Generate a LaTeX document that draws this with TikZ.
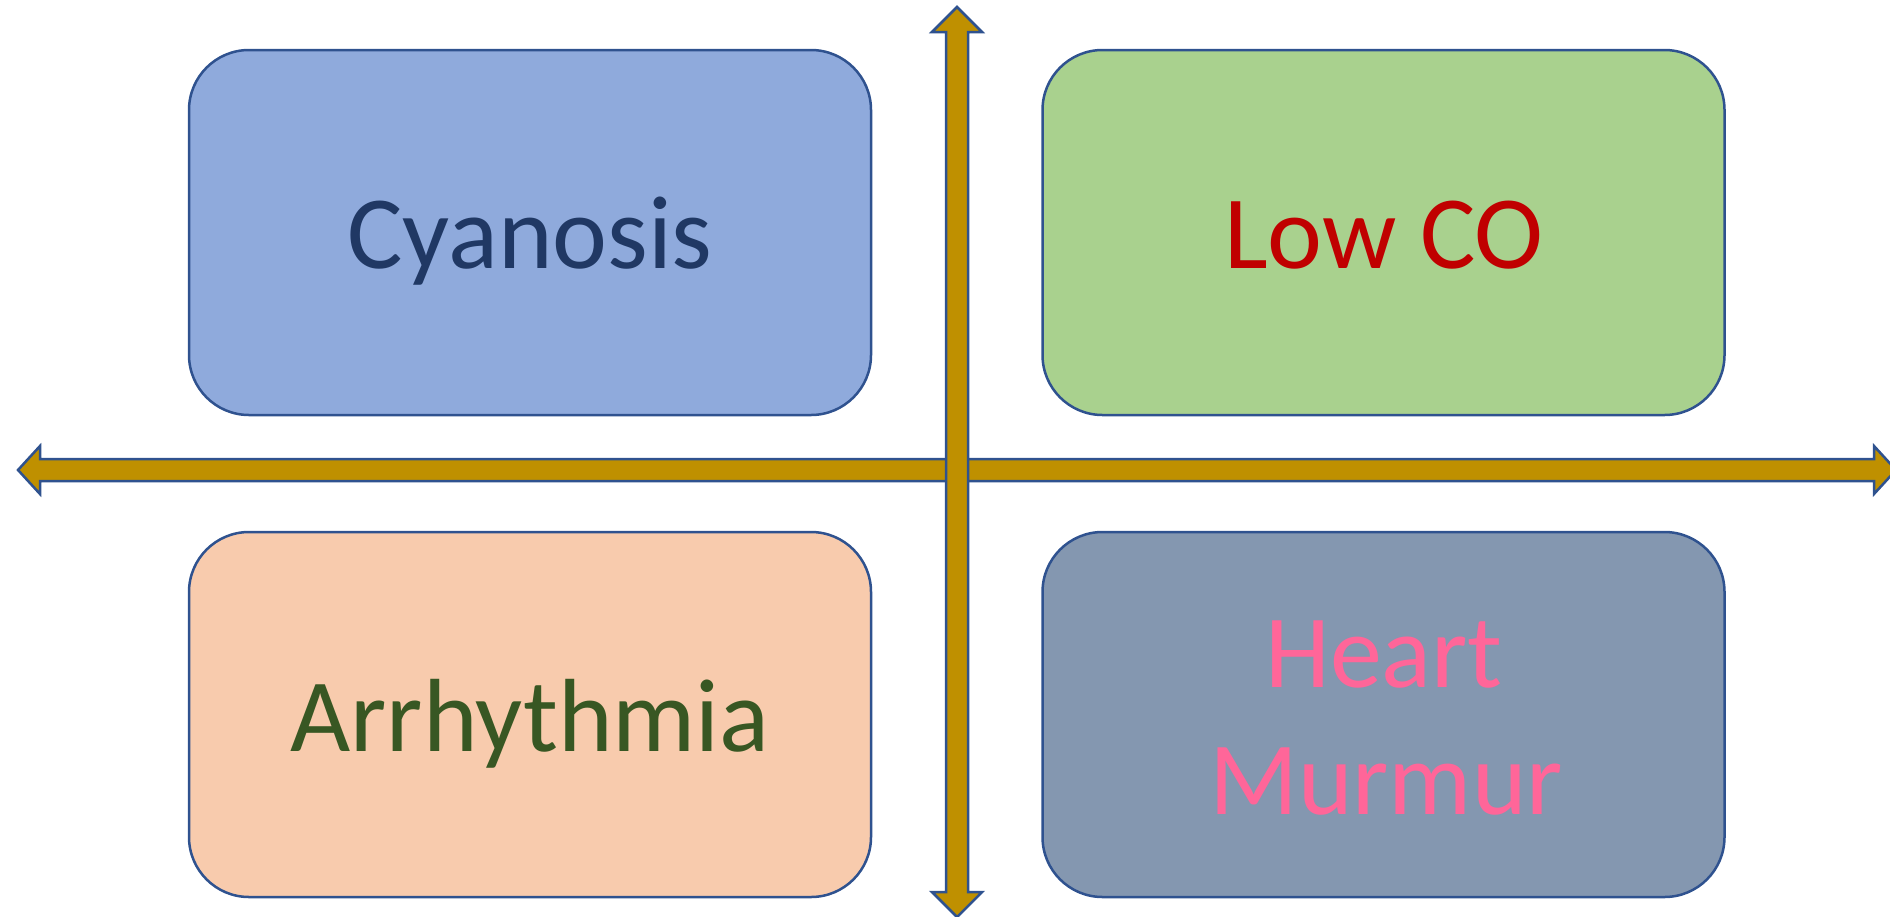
\documentclass[tikz,border=0pt]{standalone}
\usepackage{fontspec}
\setmainfont{Carlito}
\definecolor{edgeblue}{HTML}{2F528F}
\definecolor{axisgold}{HTML}{BF9000}
\definecolor{fillblue}{HTML}{8FAADC}
\definecolor{fillgreen}{HTML}{A9D18E}
\definecolor{fillpeach}{HTML}{F8CBAD}
\definecolor{fillslate}{HTML}{8497B0}
\definecolor{txtnavy}{HTML}{203864}
\definecolor{txtred}{HTML}{C00000}
\definecolor{txtgreen}{HTML}{385723}
\definecolor{txtpink}{HTML}{FF6699}
\begin{document}
\begin{tikzpicture}[x=1pt,y=-1pt,
  quad/.style={draw=edgeblue, line width=2.5pt, rounded corners=60pt,
    minimum width=682pt, minimum height=365pt, inner sep=0pt},
  lbl/.style={font=\fontsize{104}{127}\selectfont, anchor=base, inner sep=0pt},
  axis/.style={fill=axisgold, draw=edgeblue, line width=2.5pt, line join=miter}]
\useasboundingbox (0,0) rectangle (1890,916);

% four quadrant boxes
\node[quad, fill=fillblue]  (tl) at (530,232.5) {};
\node[quad, fill=fillgreen] (tr) at (1383.5,232.5) {};
\node[quad, fill=fillpeach] (bl) at (530,714.5) {};
\node[quad, fill=fillslate] (br) at (1383.5,714.5) {};

% horizontal double arrow
\coordinate (hl) at (18,470);
\coordinate (hr) at (1896,470);
\draw[axis] (hl) -- ++(22,-24) -- ++(0,13) -- (1874,459) -- ++(0,-13)
  -- (hr) -- ++(-22,24) -- ++(0,-13) -- (40,481) -- ++(0,13) -- cycle;

% vertical double arrow
\coordinate (vt) at (957,7);
\coordinate (vb) at (957,917);
\draw[axis] (vt) -- ++(25,25) -- ++(-14,0) -- (968,892) -- ++(14,0)
  -- (vb) -- ++(-25,-25) -- ++(14,0) -- (946,32) -- ++(-14,0) -- cycle;

% labels
\node[lbl, text=txtnavy]  (cyan) at (530,268) {Cyanosis};
\node[lbl, text=txtred]   (lowco) at (1384,268) {Low CO};
\node[lbl, text=txtgreen] (arr) at (530,751) {Arrhythmia};
\node[lbl, text=txtpink]  (heart) at (1384,687) {Heart};
\node[lbl, text=txtpink]  (murmur) at (1386,814) {Murmur};
\end{tikzpicture}
\end{document}
